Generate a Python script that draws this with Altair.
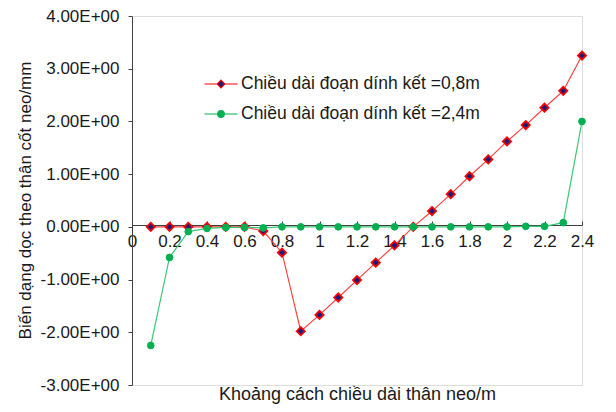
import altair as alt
import pandas as pd

x_vals = [0.1, 0.2, 0.3, 0.4, 0.5, 0.6, 0.7, 0.8, 0.9, 1.0, 1.1, 1.2,
          1.3, 1.4, 1.5, 1.6, 1.7, 1.8, 1.9, 2.0, 2.1, 2.2, 2.3, 2.4]
red_vals = [0.0, 0.0, 0.0, 0.0, 0.0, 0.0, -0.08, -0.49, -1.98, -1.67, -1.34, -1.01,
            -0.68, -0.35, 0.0, 0.30, 0.62, 0.96, 1.28, 1.62, 1.93, 2.26, 2.58, 3.25]
green_vals = [-2.25, -0.58, -0.09, -0.03, -0.01, -0.01, -0.02, 0.0, 0.0, 0.0, 0.0, 0.0,
              0.0, 0.0, 0.0, 0.0, 0.0, 0.0, 0.0, 0.0, 0.01, 0.01, 0.08, 2.0]
series_names = ["Chiều dài đoạn dính kết =0,8m", "Chiều dài đoạn dính kết =2,4m"]
x_ticks = [0, 0.2, 0.4, 0.6, 0.8, 1.0, 1.2, 1.4, 1.6, 1.8, 2.0, 2.2, 2.4]
y_ticks = [-3, -2, -1, 0, 1, 2, 3, 4]

rows = []
for xv, rv in zip(x_vals, red_vals):
    rows.append({"x": xv, "y": rv, "s": series_names[0]})
for xv, gv in zip(x_vals, green_vals):
    rows.append({"x": xv, "y": gv, "s": series_names[1]})
df = pd.DataFrame(rows)

FONT = "Liberation Sans"
TXT = "#1a1a1a"
AX = "#404040"

xs = alt.Scale(domain=[0, 2.4], nice=False, zero=False)
ys = alt.Scale(domain=[-3, 4], nice=False)

path1 = "M-1.65,0H-0.38M0.38,0H1.65M0,-0.38L0.38,0L0,0.38L-0.38,0Z"
path2 = ("M-1.65,0H-0.33M0.33,0H1.65M0.33,0A0.33,0.33 0 1,1 -0.33,0"
         "A0.33,0.33 0 1,1 0.33,0Z")

legend = alt.Legend(
    title=None, orient="none", legendX=78, legendY=57, padding=0,
    symbolSize=400, labelOffset=9, rowPadding=10, labelLimit=500,
    labelFont=FONT, labelFontSize=17.5, labelColor=TXT,
    symbolStrokeWidth=1.2, symbolOpacity=1,
)

fill_scale = alt.Scale(domain=series_names, range=["#1C1C78", "#00B050"])
stroke_scale = alt.Scale(domain=series_names, range=["#FF0000", "#00B050"])
shape_scale = alt.Scale(domain=series_names, range=[path1, path2])

base = alt.Chart(df)

red_line = base.transform_filter(alt.datum.s == series_names[0]).mark_line(
    color="#FF3B3B", strokeWidth=1.1
).encode(
    x=alt.X("x:Q", scale=xs, title="Khoảng cách chiều dài thân neo/m",
            axis=alt.Axis(orient="bottom", offset=-160, values=x_ticks, format="~g",
                          ticks=False, tickSize=0, labelPadding=8, grid=False,
                          domainColor=AX, labelFont=FONT, labelFontSize=17, labelColor=TXT,
                          labelFlush=False,
                          titleFont=FONT, titleFontSize=18, titleFontWeight="normal",
                          titleColor=TXT, titleY=169, titleBaseline="middle")),
    y=alt.Y("y:Q", scale=ys, title="Biến dạng dọc theo thân cốt neo/mm",
            axis=alt.Axis(values=y_ticks,
                          labelExpr="(datum.value < 0 ? '-' : '') + format(abs(datum.value), '.2f') + 'E+00'",
                          tickSize=4, labelPadding=9, grid=False,
                          domainColor=AX, tickColor=AX,
                          labelFont=FONT, labelFontSize=17, labelColor=TXT,
                          titleFont=FONT, titleFontSize=17, titleFontWeight="normal",
                          titleColor=TXT, titleX=-107, titleY=184,
                          titleBaseline="middle", titleAngle=270)),
)

red_pts = base.transform_filter(alt.datum.s == series_names[0]).mark_point(
    shape="diamond", size=70, strokeWidth=1.7, opacity=1
).encode(
    x=alt.X("x:Q", scale=xs,
            axis=alt.Axis(orient="top", offset=-209, values=x_ticks, labels=False,
                          domain=False, ticks=True, tickSize=4, tickColor=AX,
                          grid=False, title=None)),
    y=alt.Y("y:Q", scale=ys, axis=None),
    fill=alt.Fill("s:N", scale=fill_scale, legend=legend),
    stroke=alt.Stroke("s:N", scale=stroke_scale, legend=legend),
)

green_line = base.transform_filter(alt.datum.s == series_names[1]).mark_line(
    color="#3CC878", strokeWidth=1.2
).encode(
    x=alt.X("x:Q", scale=xs, axis=None),
    y=alt.Y("y:Q", scale=ys, axis=None),
)

green_pts = base.transform_filter(alt.datum.s == series_names[1]).mark_point(
    shape="circle", size=45, strokeWidth=1, opacity=1
).encode(
    x=alt.X("x:Q", scale=xs, axis=None),
    y=alt.Y("y:Q", scale=ys, axis=None),
    fill=alt.Fill("s:N", scale=fill_scale, legend=legend),
    stroke=alt.Stroke("s:N", scale=stroke_scale, legend=legend),
)

legend_layer = base.transform_filter("false").mark_point(opacity=1, strokeWidth=1.2).encode(
    x=alt.X("x:Q", scale=xs, axis=None),
    y=alt.Y("y:Q", scale=ys, axis=None),
    fill=alt.Fill("s:N", scale=fill_scale, legend=legend),
    stroke=alt.Stroke("s:N", scale=stroke_scale, legend=legend),
    shape=alt.Shape("s:N", scale=shape_scale, legend=legend),
)

chart = alt.layer(red_line, red_pts, green_line, green_pts, legend_layer).resolve_axis(
    x="independent", y="independent"
).properties(
    width=450, height=369,
    autosize=alt.AutoSizeParams(type="none"),
    padding={"left": 124, "top": 8, "right": 26, "bottom": 19},
).configure_view(stroke=None).configure(background="white")

chart.save("out.html", embed_options={"renderer": "svg", "actions": False})
